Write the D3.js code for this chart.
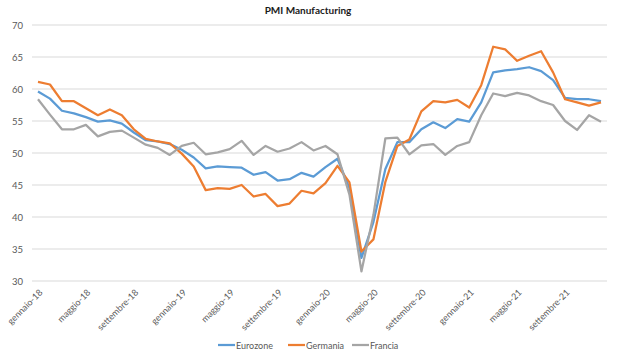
<!DOCTYPE html>
<html>
<head>
<meta charset="utf-8">
<script src="https://cdn.jsdelivr.net/npm/d3@7"></script>
<style>
  body { margin: 0; background: #fff; }
  svg { font-family: Lato, "Open Sans", sans-serif; }
</style>
</head>
<body>
<div id="chart-container"></div>
<script>
// mesi gen-2018 .. dic-2021
const monthNames = ["gennaio", "febbraio", "marzo", "aprile", "maggio", "giugno",
    "luglio", "agosto", "settembre", "ottobre", "novembre", "dicembre"];
const years = ["18", "19", "20", "21"];
const months = [];
years.forEach(y => monthNames.forEach(m => months.push(m + "-" + y)));

const eurozone = [59.6, 58.5, 56.6, 56.2, 55.6, 54.9, 55.1, 54.6, 53.2, 52.0, 51.8, 51.4,
    50.5, 49.3, 47.6, 47.9, 47.8, 47.7, 46.6, 47.0, 45.7, 45.9, 46.9, 46.3,
    47.8, 49.1, 44.5, 33.6, 39.2, 47.5, 51.7, 51.7, 53.7, 54.8, 53.9, 55.3,
    54.9, 57.9, 62.6, 62.9, 63.1, 63.4, 62.8, 61.4, 58.6, 58.4, 58.4, 58.1];

const germania = [61.1, 60.7, 58.1, 58.1, 57.0, 55.9, 56.8, 55.9, 53.7, 52.2, 51.8, 51.5,
    49.9, 47.9, 44.2, 44.5, 44.4, 45.0, 43.2, 43.6, 41.7, 42.1, 44.1, 43.7,
    45.3, 48.0, 45.4, 34.6, 36.5, 45.5, 51.1, 52.1, 56.5, 58.1, 57.9, 58.3,
    57.1, 60.6, 66.6, 66.2, 64.4, 65.2, 65.9, 62.6, 58.4, 57.9, 57.4, 57.9];

const francia = [58.4, 56.0, 53.7, 53.7, 54.4, 52.6, 53.3, 53.5, 52.4, 51.3, 50.8, 49.7,
    51.1, 51.6, 49.8, 50.1, 50.6, 51.9, 49.7, 51.1, 50.2, 50.7, 51.7, 50.4,
    51.1, 49.8, 43.5, 31.5, 40.3, 52.3, 52.4, 49.8, 51.2, 51.4, 49.7, 51.1,
    51.7, 55.9, 59.3, 58.9, 59.4, 59.0, 58.1, 57.5, 55.0, 53.6, 55.9, 54.9];

const yTicks = [30, 35, 40, 45, 50, 55, 60, 65, 70];

const series = [
    { name: "Eurozone", values: eurozone, color: "#5B9BD5" },
    { name: "Germania", values: germania, color: "#ED7D31" },
    { name: "Francia", values: francia, color: "#A5A5A5" }
];

const width = 617;
const height = 351;
const margin = { top: 25, right: 10, bottom: 70, left: 32 };

const svg = d3.select("#chart-container")
    .append("svg")
    .attr("width", width)
    .attr("height", height);

const xScale = d3.scaleBand()
    .domain(months)
    .range([margin.left, 607]);

const yScale = d3.scaleLinear()
    .domain([30, 70])
    .range([281, 25]);

const cx = d => xScale(d) + xScale.bandwidth() / 2;

// titolo
svg.append("text")
    .attr("x", 308)
    .attr("y", 14)
    .attr("text-anchor", "middle")
    .attr("font-size", 10)
    .attr("font-weight", "bold")
    .attr("fill", "#1a1a1a")
    .text("PMI Manufacturing");

// griglia
svg.append("g")
    .selectAll("line")
    .data(yTicks)
    .enter()
    .append("line")
    .attr("x1", margin.left)
    .attr("x2", 607)
    .attr("y1", d => yScale(d))
    .attr("y2", d => yScale(d))
    .attr("stroke", "#d9d9d9")
    .attr("stroke-width", 1);

// asse Y
const yAxis = svg.append("g")
    .attr("transform", "translate(23,0)")
    .call(d3.axisLeft(yScale).tickValues(yTicks).tickSize(0).tickPadding(0));
yAxis.select(".domain").remove();
yAxis.selectAll("text")
    .attr("font-size", 9.5)
    .attr("fill", "#595959")
    .attr("font-family", "Lato, sans-serif");

// asse X
const xAxis = svg.append("g")
    .attr("transform", "translate(0,281)")
    .call(d3.axisBottom(xScale)
        .tickValues(months.filter((d, i) => i % 4 === 0))
        .tickSize(0));
xAxis.select(".domain").remove();
xAxis.selectAll("text")
    .attr("font-size", 9)
    .attr("fill", "#595959")
    .attr("font-family", "Lato, sans-serif")
    .attr("text-anchor", "end")
    .attr("dy", 0)
    .attr("transform", "translate(3,10) rotate(-45)");

// linee
const line = d3.line()
    .x((d, i) => cx(months[i]))
    .y(d => yScale(d));

svg.append("g")
    .selectAll("path")
    .data(series)
    .enter()
    .append("path")
    .attr("d", d => line(d.values))
    .attr("fill", "none")
    .attr("stroke", d => d.color)
    .attr("stroke-width", 2.25)
    .attr("stroke-linejoin", "round");

// legenda
const legendX = [218, 288, 352];
const legend = svg.append("g")
    .selectAll("g")
    .data(series)
    .enter()
    .append("g")
    .attr("transform", (d, i) => `translate(${legendX[i]}, 345)`);

legend.append("line")
    .attr("x1", 0)
    .attr("x2", 17)
    .attr("stroke", d => d.color)
    .attr("stroke-width", 2.25);

legend.append("text")
    .attr("x", 18)
    .attr("y", 3.5)
    .attr("font-size", 9)
    .attr("fill", "#595959")
    .text(d => d.name);
</script>
</body>
</html>
